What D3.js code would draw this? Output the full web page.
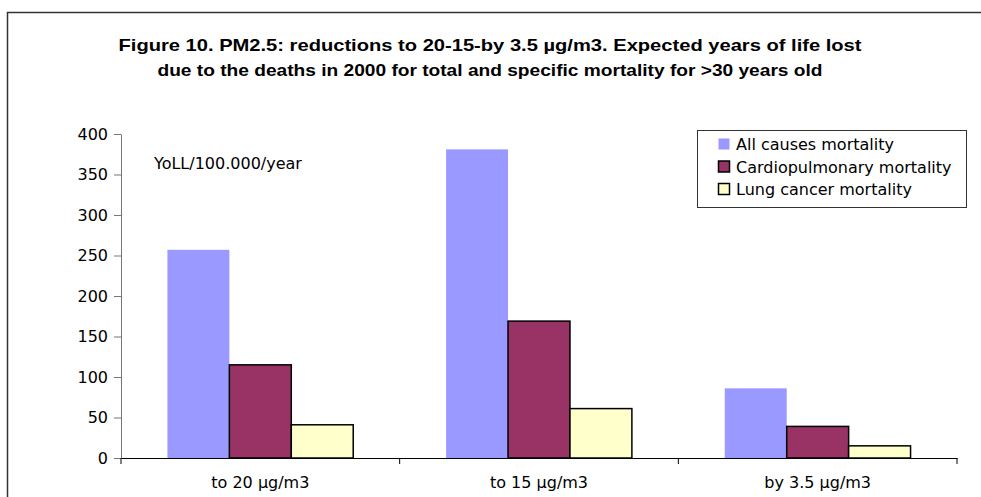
<!DOCTYPE html>
<html>
<head>
<meta charset="utf-8">
<script src="https://cdn.jsdelivr.net/npm/d3@7"></script>
<style>
  html, body { margin: 0; padding: 0; background: #fff; overflow: hidden; }
  svg { display: block; }
  text { font-family: "DejaVu Sans", Arial, sans-serif; fill: #000; }
</style>
</head>
<body>
<svg id="chart" width="981" height="497"></svg>
<script>
// Reduction scenarios (x categories)
const categories = ["to 20 µg/m3", "to 15 µg/m3", "by 3.5 µg/m3"];
// Series names
const seriesNames = ["All causes mortality", "Cardiopulmonary mortality", "Lung cancer mortality"];
// Years of life lost per 100.000 per year, one array per series
const allCauses = [257, 381, 86];
const cardiopulmonary = [115, 169, 39];
const lungCancer = [41, 61, 15];
// Y axis ticks
const yTicks = [0, 50, 100, 150, 200, 250, 300, 350, 400];

const seriesValues = [allCauses, cardiopulmonary, lungCancer];
const fills = ["#9999FF", "#993366", "#FFFFCC"];
const strokes = ["none", "#000", "#000"];

const svg = d3.select("#chart");

// outer frame (open on the right and bottom)
svg.append("path")
  .attr("d", "M7.5,497 V12.5 H981")
  .attr("fill", "none").attr("stroke", "#333").attr("stroke-width", 1.5);

// title
const title = svg.append("text")
  .attr("text-anchor", "middle")
  .style("font-family", "'Liberation Sans', Arial, sans-serif")
  .style("font-weight", "bold").style("font-size", "17px");
title.append("tspan").attr("x", 490).attr("y", 51)
  .attr("textLength", 743).attr("lengthAdjust", "spacingAndGlyphs")
  .text("Figure 10. PM2.5: reductions to 20-15-by 3.5 µg/m3. Expected years of life lost");
title.append("tspan").attr("x", 490).attr("y", 76)
  .attr("textLength", 665).attr("lengthAdjust", "spacingAndGlyphs")
  .text("due to the deaths in 2000 for total and specific mortality for >30 years old");

const plot = { left: 121, right: 957, top: 134, bottom: 458 };

const x0 = d3.scaleBand().domain(categories).range([plot.left, plot.right]).padding(0);
// bars take 2/3 of each category band (gap width 150%)
const x1 = d3.scaleBand().domain(d3.range(seriesNames.length))
  .range([0, x0.bandwidth()]).paddingOuter(0.75).paddingInner(0);
const y = d3.scaleLinear().domain([0, 400]).range([plot.bottom, plot.top]);

// bars
const groups = svg.append("g").selectAll("g")
  .data(categories).join("g")
  .attr("transform", d => `translate(${x0(d)},0)`);

groups.selectAll("rect")
  .data((d, i) => seriesValues.map((vals, s) => ({ s, v: vals[i] })))
  .join("rect")
  .attr("x", d => x1(d.s))
  .attr("y", d => y(d.v))
  .attr("width", x1.bandwidth())
  .attr("height", d => y(0) - y(d.v))
  .attr("fill", d => fills[d.s])
  .attr("stroke", d => strokes[d.s])
  .attr("stroke-width", 1.5);

// y axis
const yAxis = svg.append("g")
  .attr("transform", `translate(${plot.left},0)`)
  .call(d3.axisLeft(y).tickValues(yTicks).tickSize(7).tickPadding(6).tickSizeOuter(0));
yAxis.attr("font-family", null).attr("font-size", null);
yAxis.select(".domain").attr("stroke", "#777");
yAxis.selectAll(".tick line").attr("stroke", "#777");
yAxis.selectAll("text").style("font-size", "16px");

// x axis
const xAxis = svg.append("g")
  .attr("transform", `translate(0,${plot.bottom})`)
  .call(d3.axisBottom(x0).tickSize(0).tickPadding(19).tickSizeOuter(0));
xAxis.attr("font-family", null).attr("font-size", null);
xAxis.select(".domain").attr("stroke", "#000");
xAxis.selectAll("text").style("font-size", "16px");
// category separator ticks
svg.append("g").selectAll("line")
  .data(categories.map(c => x0(c)).concat([x0(categories[categories.length - 1]) + x0.bandwidth()]))
  .join("line")
  .attr("x1", d => d).attr("x2", d => d)
  .attr("y1", plot.bottom).attr("y2", plot.bottom + 6)
  .attr("stroke", "#000");

// unit label
svg.append("text")
  .attr("x", 154).attr("y", 169)
  .style("font-size", "16px")
  .text("YoLL/100.000/year");

// legend
const legend = svg.append("g");
legend.append("rect")
  .attr("x", 697.5).attr("y", 130.5)
  .attr("width", 269).attr("height", 77)
  .attr("fill", "#fff").attr("stroke", "#333");
const items = legend.selectAll("g")
  .data(seriesNames).join("g")
  .attr("transform", (d, i) => `translate(0,${144 + i * 22.5})`);
items.append("rect")
  .attr("x", 718.5).attr("y", -5.5)
  .attr("width", 11).attr("height", 11)
  .attr("fill", (d, i) => fills[i])
  .attr("stroke", (d, i) => strokes[i])
  .attr("stroke-width", 1.5);
items.append("text")
  .attr("x", 736).attr("y", 6)
  .style("font-size", "16px")
  .text(d => d);
</script>
</body>
</html>
